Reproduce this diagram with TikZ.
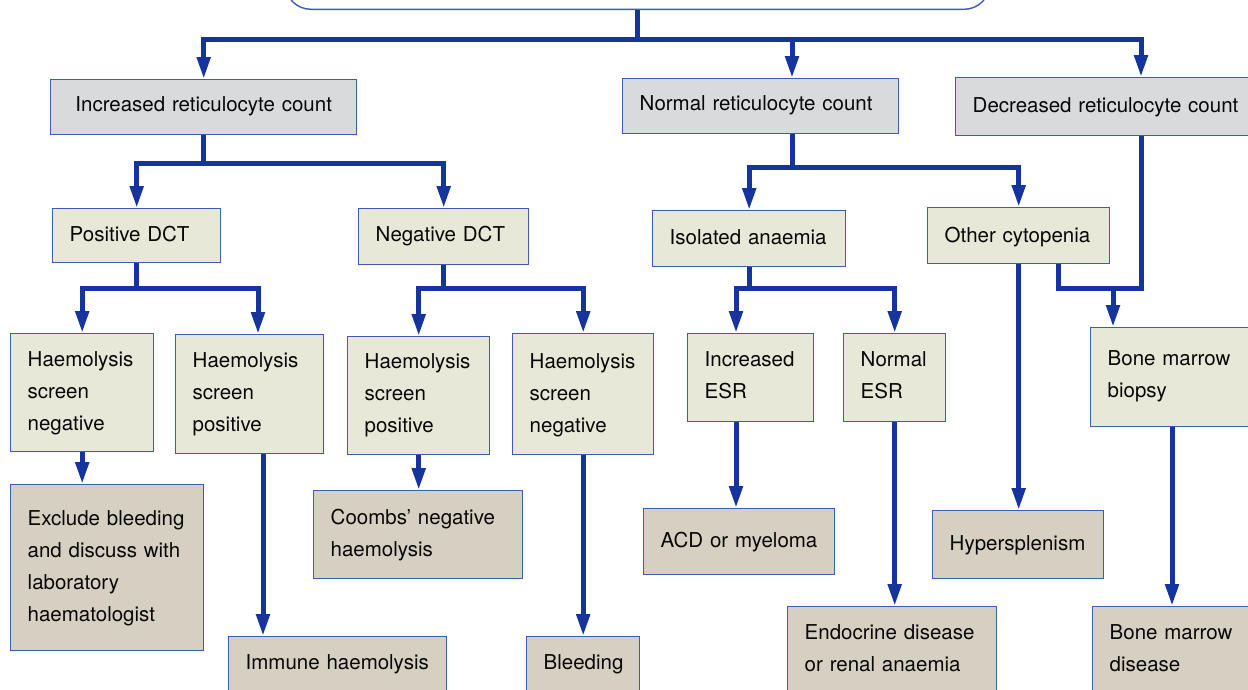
\documentclass[tikz,border=0pt]{standalone}
\usepackage{fontspec}
\setmainfont{TeX Gyre Heros}
\usetikzlibrary{arrows.meta}
\definecolor{linec}{RGB}{22,52,158}
\definecolor{boxline}{RGB}{62,92,182}
\definecolor{greyf}{RGB}{217,218,219}
\definecolor{beigef}{RGB}{232,232,216}
\definecolor{taupef}{RGB}{214,208,194}
\definecolor{textc}{RGB}{8,8,8}
\tikzset{
  box/.style={draw=boxline, line width=1.4pt, anchor=north west, align=left, inner xsep=17pt, inner ysep=0pt, font=\fontsize{20.5}{32}\selectfont, text=textc},
  gbox/.style={box, fill=greyf},
  bbox/.style={box, fill=beigef},
  tbox/.style={box, fill=taupef},
  conn/.style={draw=linec, line width=5pt},
  arr/.style={conn, -{Triangle[length=22pt,width=13pt]}},
}
\begin{document}
\begin{tikzpicture}[x=1pt,y=-1pt]
\useasboundingbox (0,0) rectangle (1248,689);
\clip (0,0) rectangle (1248,689);

\node[draw=boxline, line width=1.4pt, rounded corners=26pt, minimum width=705pt, minimum height=80pt, anchor=south, inner sep=0pt, fill=white] (top) at (637.5,10) {};

\node[gbox, align=center, text width=258pt, inner xsep=24pt, text height=32pt, text depth=23pt] (inc) at (50,79) {\mbox{Increased reticulocyte count}};
\node[gbox, text width=242pt, text height=32pt, text depth=23pt] (nor) at (622,78) {\mbox{Normal reticulocyte count}};
\node[gbox, text width=296pt, text height=35pt, text depth=23pt] (dec) at (955,77) {\mbox{Decreased reticulocyte count}};

\node[bbox, text width=134pt, text height=33pt, text depth=21pt] (pos) at (52,208) {\mbox{Positive DCT}};
\node[bbox, text width=136pt, text height=33pt, text depth=23pt] (neg) at (358,208) {\mbox{Negative DCT}};

\node[bbox, text width=109pt, text height=33pt, text depth=85pt] (hsn1) at (10,333) {Haemolysis\\screen\\negative};
\node[bbox, text width=114pt, text height=33pt, text depth=86pt] (hsp1) at (175,334) {Haemolysis\\screen\\positive};
\node[bbox, text width=108pt, text height=32pt, text depth=86pt] (hsp2) at (347,336) {Haemolysis\\screen\\positive};
\node[bbox, text width=107pt, text height=35pt, text depth=86pt] (hsn2) at (512,333) {Haemolysis\\screen\\negative};

\node[tbox, text width=159pt, text height=41pt, text depth=125pt] (excl) at (10,484) {\mbox{Exclude bleeding}\\\mbox{and discuss with}\\laboratory\\haematologist};
\node[tbox, text width=184pt, text height=33pt, text depth=60pt] (imm) at (228,636) {\mbox{Immune haemolysis}};
\node[tbox, text width=175pt, text height=34pt, text depth=54pt] (coombs) at (313,490) {\mbox{Coombs’ negative}\\haemolysis};
\node[tbox, text width=79pt, text height=33pt, text depth=60pt] (bleed) at (526,636) {Bleeding};

\node[bbox, text width=159pt, text height=34pt, text depth=22pt] (iso) at (652,210) {\mbox{Isolated anaemia}};
\node[bbox, text width=148pt, text height=35pt, text depth=21pt] (oth) at (927,207) {\mbox{Other cytopenia}};
\node[bbox, text width=92pt, text height=33pt, text depth=55pt] (iesr) at (687,333) {Increased\\ESR};
\node[bbox, text width=68pt, text height=33pt, text depth=55pt] (nesr) at (843,333) {Normal\\ESR};
\node[tbox, text width=157pt, text height=39pt, text depth=27pt] (acd) at (643,508) {\mbox{ACD or myeloma}};
\node[tbox, text width=175pt, text height=33pt, text depth=70pt] (endo) at (787,606) {\mbox{Endocrine disease}\\\mbox{or renal anaemia}};
\node[tbox, text width=137pt, text height=40pt, text depth=28pt] (hyp) at (932,510) {Hypersplenism};
\node[bbox, text width=166pt, text height=38pt, text depth=61pt] (bmb) at (1090,327) {Bone marrow\\biopsy};
\node[tbox, text width=166pt, text height=33pt, text depth=70pt] (bmd) at (1092,606) {Bone marrow\\disease};

% connectors
\draw[arr] (top.south) -- ++(0,29) -| (inc.north);
\draw[arr] (top.south) -- ++(0,29) -| ([xshift=170pt]nor.north west);
\draw[arr] (top.south) -- ++(0,29) -| ([xshift=186pt]dec.north west);

\draw[arr] (inc.south) -- ++(0,28) -| (pos.north);
\draw[arr] (inc.south) -- ++(0,28) -| (neg.north);
\draw[arr] (pos.south) -- ++(0,25) -| (hsn1.north);
\draw[arr] (pos.south) -- ++(0,25) -| ([xshift=83pt]hsp1.north west);
\draw[arr] (neg.south) -- ++(0,23) -| (hsp2.north);
\draw[arr] (neg.south) -- ++(0,23) -| (hsn2.north);
\draw[arr] (hsn1.south) -- (hsn1.south |- excl.north);
\draw[arr] ([xshift=88pt]hsp1.south west) -- ([xshift=35pt]imm.north west);
\draw[arr] (hsp2.south) -- (hsp2.south |- coombs.north);
\draw[arr] (hsn2.south) -- (hsn2.south |- bleed.north);

\draw[arr] ([xshift=170pt]nor.south west) -- ++(0,33) -| (iso.north);
\draw[arr] ([xshift=170pt]nor.south west) -- ++(0,33) -| (oth.north);
\draw[arr] (iso.south) -- ++(0,21) -| ([xshift=49pt]iesr.north west);
\draw[arr] (iso.south) -- ++(0,21) -| (nesr.north);
\draw[arr] ([xshift=49pt]iesr.south west) -- ([xshift=93pt]acd.north west);
\draw[arr] (nesr.south) -- (nesr.south |- endo.north);
\draw[arr] (oth.south) -- (oth.south |- hyp.north);
\draw[conn] ([xshift=131pt]oth.south west) -- ++(0,24) -| ([xshift=186pt]dec.south west);
\coordinate (bj) at (1113,287);
\draw[arr] (bj) -- (bj |- bmb.north);
\draw[arr] ([xshift=82pt]bmb.south west) -- ([xshift=80pt]bmd.north west);
\end{tikzpicture}
\end{document}
